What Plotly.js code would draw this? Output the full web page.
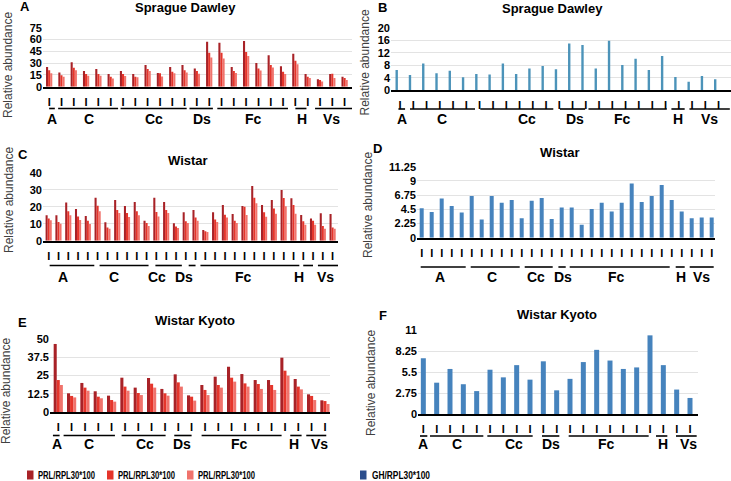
<!DOCTYPE html>
<html><head><meta charset="utf-8">
<script src="https://cdn.plot.ly/plotly-3.0.1.min.js"></script>
<style>html,body{margin:0;padding:0;background:#fff}#chart{width:731px;height:481px}</style>
</head><body><div id="chart"></div>
<script>
// ---------------- DATA ----------------
const groupNames = ['A','C','Cc','Ds','Fc','H','Vs'];
const seriesNames = ['PRL/RPL30*100','PRL/RPL30*100','PRL/RPL30*100','GH/RPL30*100'];

// Sprague Dawley
const sdPRL1 = [25,18,31,20,22.5,16,20,16,27.5,17.5,25,27.5,23,57,56,25,58,30,40,26,42,16,9.5,16,12.5];
const sdPRL2 = [21,14.5,24,16,16,12.5,16,12.5,22.5,17,19,21,20,43,43,20,44,23,27.5,19,33,12.5,8.5,16.5,11];
const sdPRL3 = [17,12.5,21,14,14,10.5,13.5,12,20,13,17,18,16.5,37,36,17.5,39,20.5,24.5,16,28.5,11,6.5,11,8.5];
const sdGH   = [6.5,4.9,8.6,5.4,6.2,4.1,5.2,5.0,8.6,5.2,7.0,7.8,6.7,15.1,14.6,7.0,16.0,8.1,10.1,6.5,11.0,4.2,2.7,4.5,3.5];

// Wistar
const wPRL1 = [15,15,22.5,18.6,14.5,25.3,10.8,24,20.4,22.7,11.8,25.3,22.7,10.2,16.7,18,6.3,16.7,21,15.7,20.4,32.2,21,24,29.8,24.9,15.1,13.1,16.1,15.7];
const wPRL2 = [13,11,17.3,14.3,11.8,20.6,7.8,18,16.3,17.3,10.4,16.9,18,8.4,11.4,13.7,5.5,12.4,15.3,11.8,20,25.3,16.7,19,25.1,21,11.4,11.8,8.6,7.8];
const wPRL3 = [12,10,14.9,12.2,9.8,17.3,7,16.3,13.9,14.9,8.6,14.3,16.3,7.5,10.4,11.8,5.1,11,13.7,10.4,15.1,22,14.1,15.9,20.2,15.9,9.4,9.4,7,7];
const wGH   = [4.65,4.07,6.23,5.02,4.0,6.6,2.9,6.6,5.55,5.97,3.1,5.86,6.29,2.96,4.8,4.8,2.06,4.54,5.55,4.17,5.55,8.6,5.65,6.6,8.35,5.97,4.17,3.1,3.2,3.2];

// Wistar Kyoto
const wkPRL1 = [46.6,12.8,19.9,14.2,11.2,23.5,16.7,23.3,15.8,25.8,11.4,18.5,24.2,31,26,21.9,21.9,37.2,22.6,12.1,8];
const wkPRL2 = [21.9,11,16.7,10.5,8.2,17.4,13,19.4,12.8,20.3,10.5,15.1,18.5,23.5,19.6,19.2,18.5,28.3,17.4,11,7.5];
const wkPRL3 = [18.5,10,14.6,9.4,7.1,14.6,11.6,16.7,11.2,17.4,7.8,11.6,16.7,20.8,17.4,15.8,15.1,24.9,15.5,8.2,5.5];
const wkGH   = [7.3,4.1,5.9,3.9,3.0,5.8,4.8,6.4,4.5,6.9,3.1,4.6,6.8,8.4,7.0,5.9,6.1,10.3,6.4,3.2,2.1];

// ---------------- STYLE / LAYOUT ----------------
const W = 731, H = 481;
const FONT = 'Liberation Sans, Arial, sans-serif';
const prlColors = ['#A82227','#E5352B','#F0736C'];
const ghBarB = '#4C93B9';
const ghBar = '#4683BD';
const ghLegend = '#2B4D8C';
const fx = p => p / W, fy = p => 1 - p / H;

const panels = [
  {id:'', letter:'A', title:'Sprague Dawley', data:[sdPRL1,sdPRL2,sdPRL3], w:0.17,
   xpx:[43,352], xr:[-0.5,24.6], ypx:[27.7,86.7], yr:[0,75], dtick:15, tickShift:0,
   ul:108.5, gl:118.5, titleXY:[185,7], letterXY:[25,6], ytitle:[8,65],
   gs:[0,0.73,5.8,11.4,13.66,20,21.6], ge:[0.46,5.6,11.17,13.3,19.4,20.9,24.6], gx:[0.27,3.2,8.5,12.4,16.6,20.5,22.95]},
  {id:'2', letter:'B', title:'Sprague Dawley', data:[sdGH], w:0.18, color:ghBarB,
   xpx:[391,731], xr:[-0.43,25.19], ypx:[28.3,90], yr:[0,20], dtick:4, tickShift:0.25,
   ul:109, gl:119, titleXY:[552,8], letterXY:[382,7], ytitle:[364.5,63],
   gs:[0.13,1.0,6.3,12.3,14.45,20.7,22.06], ge:[0.63,5.9,11.8,14.2,20.35,21.7,25.1], gx:[0.38,3.4,9.8,13.4,17,21.2,23.6]},
  {id:'3', letter:'C', title:'Wistar', data:[wPRL1,wPRL2,wPRL3], w:0.21,
   xpx:[43,338], xr:[-0.58,29.55], ypx:[172.7,240.7], yr:[0,40], dtick:10, tickShift:0,
   ul:265.5, gl:277, titleXY:[188,160], letterXY:[23,154], ytitle:[9,200],
   gs:[0.1,5.2,10.9,14.3,15.5,26.0,27.5], ge:[4.66,10.2,13.6,15.0,25.6,27.0,29.8], gx:[1.45,6.7,11.1,13.8,19.9,25.6,28.3]},
  {id:'4', letter:'D', title:'Wistar', data:[wGH], w:0.4, color:ghBar,
   xpx:[417,715], xr:[-0.47,29.33], ypx:[166.7,237.7], yr:[0,11.25], dtick:2.25, tickShift:0,
   ul:267, gl:277, titleXY:[560,152], letterXY:[377,148], ytitle:[368,205],
   gs:[-0.1,4.9,10.3,13.67,14.8,25.4,26.8], ge:[4.4,9.8,13.1,14.4,24.8,26.3,29.2], gx:[1.8,7,11.4,14.1,19.5,25.9,28]},
  {id:'5', letter:'E', title:'Wistar Kyoto', data:[wkPRL1,wkPRL2,wkPRL3], w:0.23,
   xpx:[50,330], xr:[-0.62,20.38], ypx:[339,412], yr:[0,50], dtick:12.5, tickShift:0,
   ul:435.5, gl:444, titleXY:[195,320], letterXY:[22,322], ytitle:[6,391],
   gs:[-0.4,0.4,4.75,8.7,10.75,17.4,18.6], ge:[0.1,4.25,8.05,10,16.75,18.25,20.1], gx:[-0.1,2.3,6.5,9.25,13.6,17.7,19.6]},
  {id:'6', letter:'F', title:'Wistar Kyoto', data:[wkGH], w:0.375, color:ghBar,
   xpx:[418,698], xr:[-0.4,20.6], ypx:[330,414], yr:[0,11], dtick:2.75, tickShift:0,
   ul:436, gl:444, titleXY:[557,314], letterXY:[383,315], ytitle:[371,383],
   gs:[-0.25,0.5,4.8,8.9,10.9,17.45,18.95], ge:[0.3,4.5,8.2,10.2,16.9,18.3,20.5], gx:[0,2.55,6.8,9.55,13.75,18,19.9]}
];

const traces = [], shapes = [], annotations = [];
const layout = {
  width: W, height: H, autosize: false,
  margin: {l:0, r:0, t:0, b:0},
  paper_bgcolor: '#fff', plot_bgcolor: '#fff',
  barmode: 'overlay', showlegend: false,
  font: {family: FONT, color: '#000'}
};

panels.forEach(p => {
  const xa = 'x' + p.id, ya = 'y' + p.id;
  const idx = p.data[0].map((_, i) => i);
  const k = p.data.length;
  p.data.forEach((vals, s) => {
    traces.push({
      type: 'bar', x: idx, y: vals, xaxis: xa, yaxis: ya,
      width: p.w, offset: -k * p.w / 2 + s * p.w,
      marker: {color: k === 1 ? p.color : prlColors[s], line: {width: 0}},
      name: k === 1 ? seriesNames[3] : seriesNames[s],
      hoverinfo: 'y'
    });
  });
  layout['xaxis' + p.id] = {
    domain: [fx(p.xpx[0]), fx(p.xpx[1])], range: p.xr, anchor: ya,
    showgrid: false, zeroline: false, showline: true, linecolor: '#000', linewidth: 2,
    tickmode: 'array', tickvals: idx.map(i => i + p.tickShift), ticktext: idx.map(() => 'I'),
    ticks: 'outside', ticklen: 4, tickcolor: 'rgba(0,0,0,0)',
    tickfont: {family: FONT, size: 11, color: '#000', weight: 'bold'}, fixedrange: true
  };
  layout['yaxis' + p.id] = {
    domain: [fy(p.ypx[1]), fy(p.ypx[0])], range: p.yr, anchor: xa,
    showgrid: true, gridcolor: '#E3E3E3', gridwidth: 1, zeroline: false, showline: false,
    tickmode: 'linear', tick0: 0, dtick: p.dtick, ticks: '',
    tickfont: {family: FONT, size: 11, color: '#000', weight: 'bold'}, fixedrange: true
  };
  groupNames.forEach((g, j) => {
    shapes.push({type: 'line', xref: xa, yref: 'paper', x0: p.gs[j], x1: p.ge[j],
      y0: fy(p.ul), y1: fy(p.ul), line: {color: '#000', width: 1.6}});
    annotations.push({xref: xa, yref: 'paper', x: p.gx[j], y: fy(p.gl), text: g,
      showarrow: false, xanchor: 'center', yanchor: 'middle',
      font: {family: FONT, size: 14, color: '#000', weight: 'bold'}});
  });
  annotations.push({xref: 'paper', yref: 'paper', x: fx(p.titleXY[0]), y: fy(p.titleXY[1]),
    text: p.title, showarrow: false, xanchor: 'center', yanchor: 'middle',
    font: {family: FONT, size: 13, color: '#000', weight: 'bold'}});
  annotations.push({xref: 'paper', yref: 'paper', x: fx(p.letterXY[0]), y: fy(p.letterXY[1]),
    text: p.letter, showarrow: false, xanchor: 'center', yanchor: 'middle',
    font: {family: FONT, size: 13, color: '#000', weight: 'bold'}});
  annotations.push({xref: 'paper', yref: 'paper', x: fx(p.ytitle[0]), y: fy(p.ytitle[1]),
    text: 'Relative abundance', textangle: -90, showarrow: false, xanchor: 'center', yanchor: 'middle',
    font: {family: FONT, size: 12, color: '#404040'}});
});

// custom legend
const legendItems = [
  {sq: 27, tx: 38, len: 57, color: prlColors[0], label: seriesNames[0]},
  {sq: 107, tx: 118, len: 57, color: prlColors[1], label: seriesNames[1]},
  {sq: 187, tx: 198, len: 57, color: prlColors[2], label: seriesNames[2]},
  {sq: 360, tx: 372, len: 58, color: ghLegend, label: seriesNames[3]}
];
legendItems.forEach(it => {
  shapes.push({type: 'rect', xref: 'paper', yref: 'paper', x0: fx(it.sq), x1: fx(it.sq + 6.5),
    y0: fy(479.5), y1: fy(470.5), fillcolor: it.color, line: {width: 0}});
  annotations.push({xref: 'paper', yref: 'paper', x: fx(it.tx + it.len / 2), y: fy(475), text: it.label,
    showarrow: false, xanchor: 'center', yanchor: 'middle', borderpad: 0,
    font: {family: FONT, size: 10, color: '#000', weight: 'bold'}});
});

layout.shapes = shapes;
layout.annotations = annotations;
Plotly.newPlot('chart', traces, layout, {staticPlot: true, displayModeBar: false}).then(gd => {
  // condense the legend labels (the original uses a narrow face); keep the centre fixed
  gd.querySelectorAll('.annotation-text').forEach(t => {
    const item = legendItems.find(it => it.label === t.textContent);
    if (item) {
      const bb = t.getBBox();
      const cx = bb.x + bb.width / 2;
      t.setAttribute('text-anchor', 'middle');
      t.setAttribute('x', cx);
      t.setAttribute('textLength', item.len);
      t.setAttribute('lengthAdjust', 'spacingAndGlyphs');
    }
  });
});
</script>
</body></html>
